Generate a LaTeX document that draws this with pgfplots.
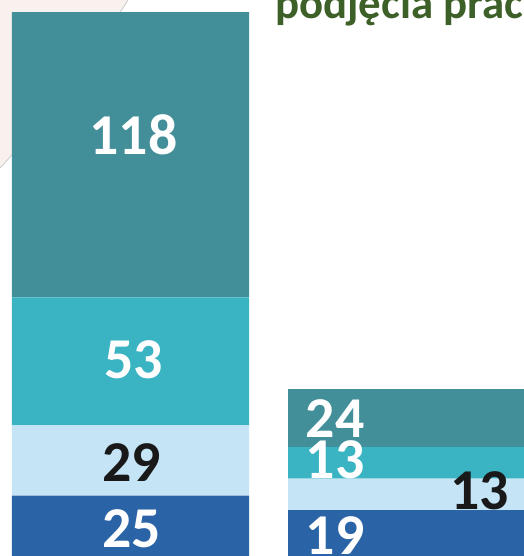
\documentclass[border=0pt]{standalone}
\usepackage{pgfplots}
\usepackage{pgfplotstable}
\pgfplotsset{compat=1.18}
\usepackage{fontspec}
\setmainfont{Carlito}
\definecolor{ctop}{HTML}{438F99}
\definecolor{csec}{HTML}{3AB3C3}
\definecolor{clight}{HTML}{C5E5F7}
\definecolor{cbot}{HTML}{2A64A6}
\definecolor{ctitle}{HTML}{3D5F28}
\definecolor{bgpink}{HTML}{F8F1EE}
\pgfplotstableread{
x a b c d
0 25 29 53 118
1 19 13 13 24
}\datatable
\newcommand{\numfont}{\fontsize{58}{58}\selectfont\bfseries}
\begin{document}
\begin{tikzpicture}[x=1bp,y=1bp]
\clip (0,0) rectangle (524,556);
\fill[white] (0,0) rectangle (524,556);
\fill[bgpink] (0,556) -- (128,556) .. controls (80,480) and (30,420) .. (0,388) -- cycle;
\draw[gray!45, line width=0.7bp] (128,556) .. controls (80,480) and (30,420) .. (0,388);
\node[anchor=base west, inner sep=0, text=ctitle, font=\fontsize{45}{45}\selectfont\bfseries] at (275,537) {podjęcia pracy};
\begin{axis}[
  at={(0,0)}, anchor=south west,
  scale only axis, width=524bp, height=556bp,
  xmin=-0.4728, xmax=1.4257, ymin=0, ymax=230,
  ybar stacked, bar width=0.8587,
  hide axis,
]
\addplot[fill=cbot, draw=none] table[x=x,y=a]{\datatable};
\addplot[fill=clight, draw=none] table[x=x,y=b]{\datatable};
\addplot[fill=csec, draw=none] table[x=x,y=c]{\datatable};
\addplot[fill=ctop, draw=none] table[x=x,y=d]{\datatable};
\coordinate (L1) at (axis cs:0.011,174.3);
\coordinate (L2) at (axis cs:0.011,81);
\coordinate (L3) at (axis cs:0.003,38.7);
\coordinate (L4) at (axis cs:0.003,11.2);
\coordinate (M1) at (axis cs:0.741,56.9);
\coordinate (M2) at (axis cs:0.741,39.7);
\coordinate (M3) at (axis cs:1.266,26.9);
\coordinate (M4) at (axis cs:0.741,8.3);
\end{axis}
\node[inner sep=0, text=white, font=\numfont] at (L1) {118};
\node[inner sep=0, text=white, font=\numfont] at (L2) {53};
\node[inner sep=0, text=black!90, font=\numfont] at (L3) {29};
\node[inner sep=0, text=white, font=\numfont] at (L4) {25};
\node[inner sep=0, text=white, font=\numfont] at (M1) {24};
\node[inner sep=0, text=white, font=\numfont] at (M2) {13};
\node[inner sep=0, text=black!90, font=\numfont] at (M3) {13};
\node[inner sep=0, text=white, font=\numfont] at (M4) {19};
\end{tikzpicture}
\end{document}
